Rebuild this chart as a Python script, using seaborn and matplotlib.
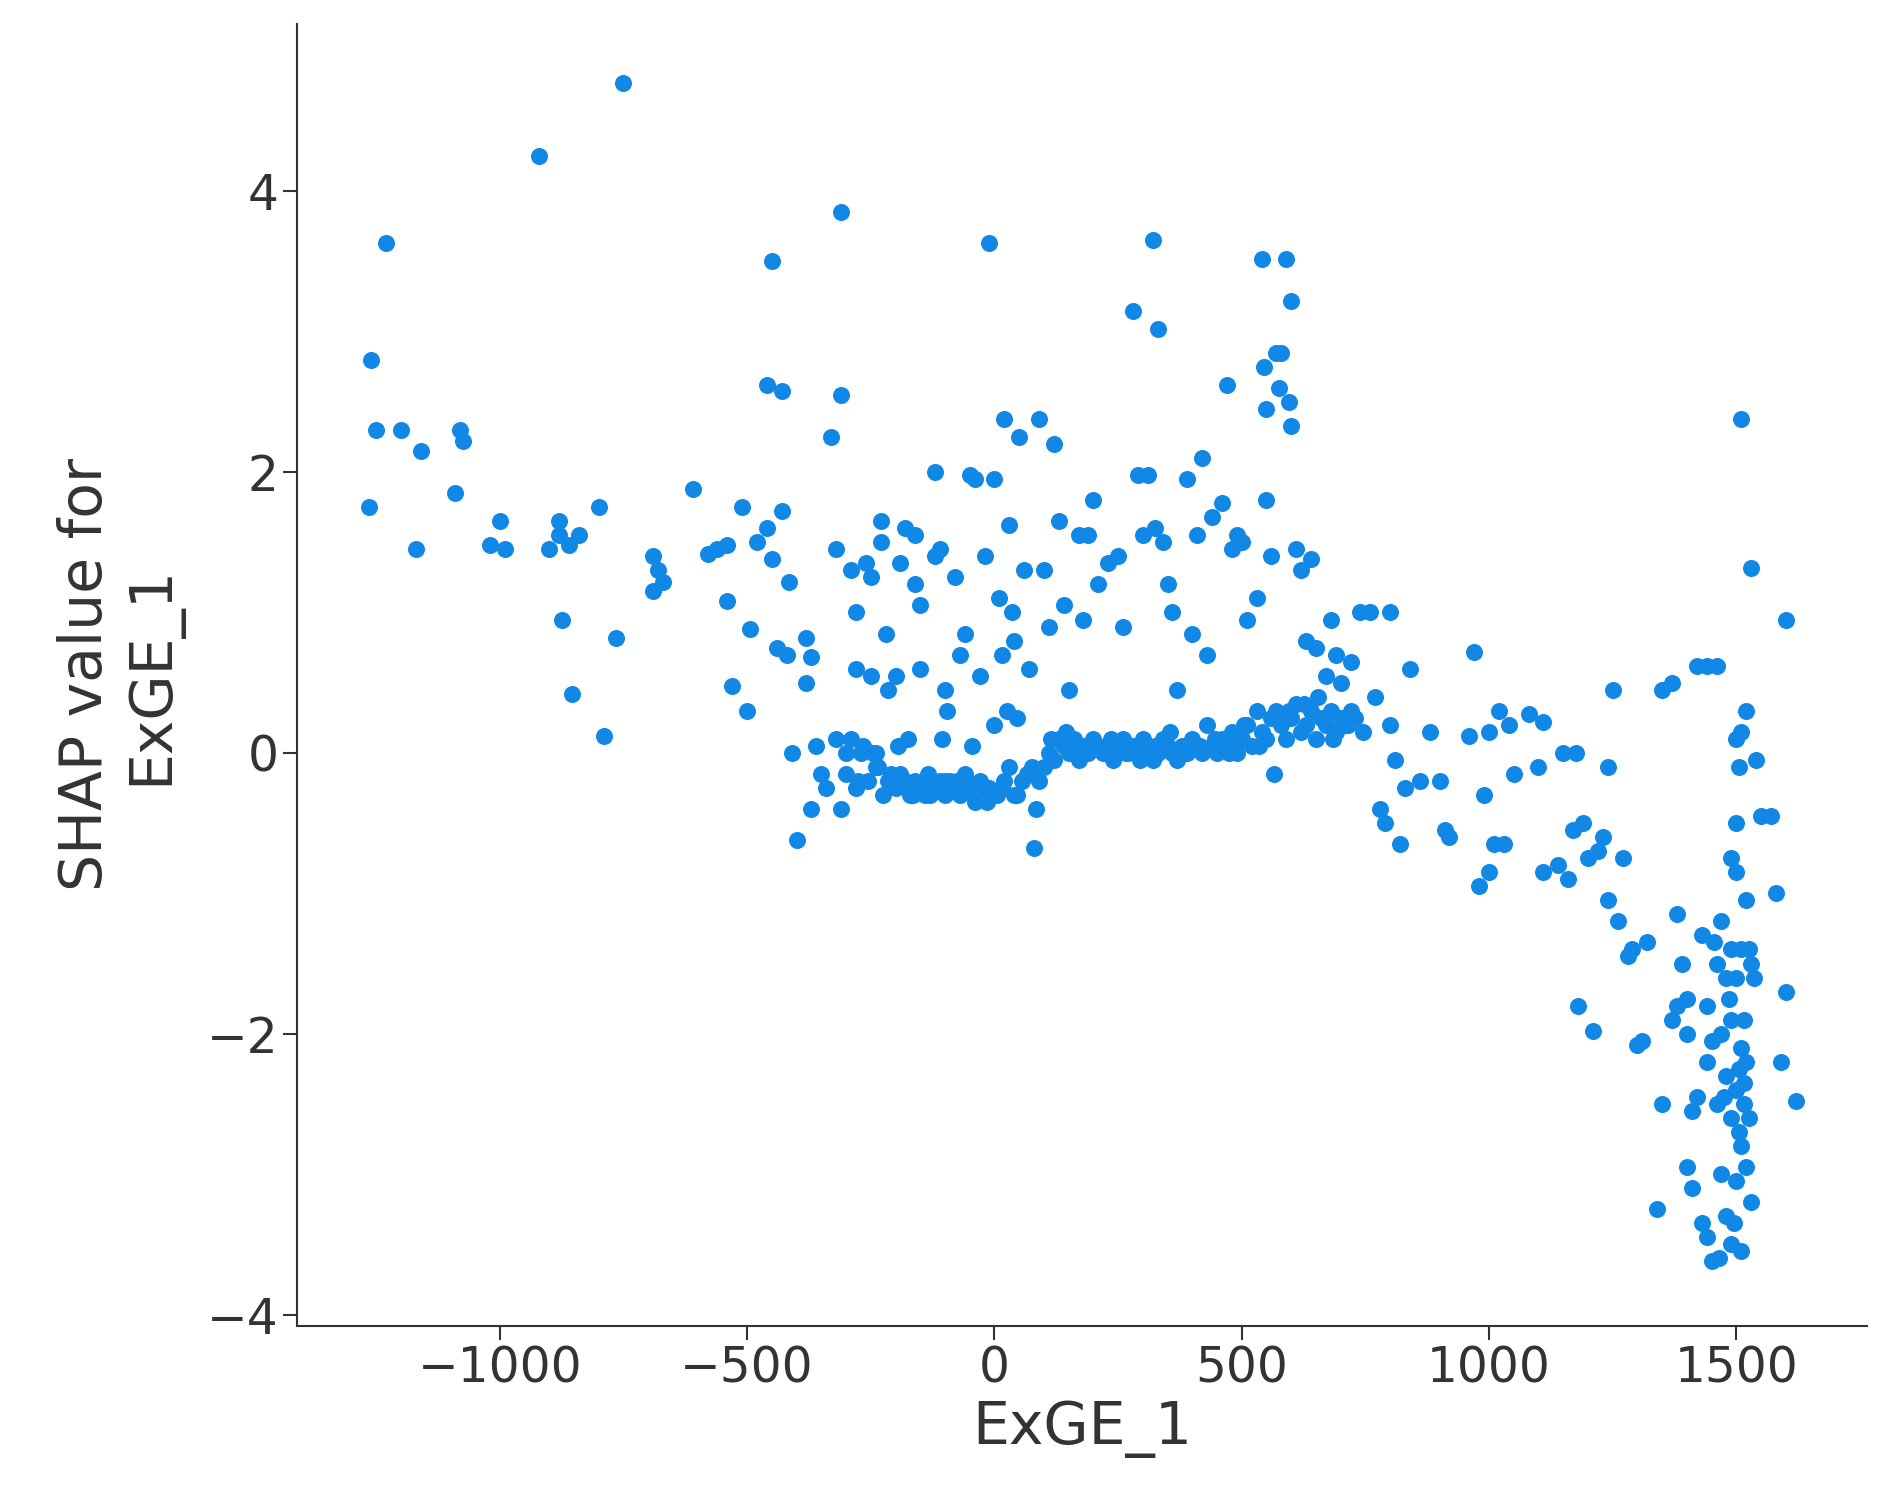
import matplotlib
matplotlib.use("Agg", force=True)
import matplotlib.pyplot as plt
import pandas as pd
import seaborn as sns

# SHAP dependence values for ExGE_1
left_x = [-1265, -1260, -1250, -1230, -1200, -1170, -1160, -1090, -1080, -1075, -1020, -1000, -990, -920,
          -900, -880, -880, -875, -860, -855, -840, -800, -790, -765, -750, -690, -690, -680, -670, -610,
          -580, -560, -540, -540, -530, -510, -500, -495, -480, -460, -460, -450, -450, -440, -430, -430,
          -420, -415, -410, -400]
left_y = [1.75, 2.8, 2.3, 3.63, 2.3, 1.45, 2.15, 1.85, 2.3, 2.22, 1.48, 1.65, 1.45, 4.25,
          1.45, 1.65, 1.55, 0.95, 1.48, 0.42, 1.55, 1.75, 0.12, 0.82, 4.77, 1.4, 1.15, 1.3, 1.22, 1.88,
          1.42, 1.45, 1.48, 1.08, 0.48, 1.75, 0.3, 0.88, 1.5, 2.62, 1.6, 3.5, 1.38, 0.75, 2.58, 1.72,
          0.7, 1.22, 0.0, -0.62]

mid_x = [-380, -380, -370, -370, -360, -350, -340, -330, -320, -320, -310, -310, -310, -300, -290, -280,
         -280, -275, -260, -250, -250, -245, -240, -230, -230, -220, -215, -210, -200, -190, -180, -175,
         -170, -160, -160, -150, -150, -140, -130, -120, -120, -110, -100, -100, -95, -90, -80, -70, -60,
         -60, -50, -40, -30, -20, -10, -10, 0, 0, 10, 15, 25, 35, 45]
mid_y = [0.5, 0.82, 0.68, -0.4, 0.05, -0.15, -0.25, 2.25, 1.45, 0.1, 3.85, 2.55, -0.4, 0.0, 1.3, 1.0,
         0.6, -0.2, 1.35, 1.25, 0.55, 0.0, -0.1, 1.65, 1.5, 0.85, 0.45, -0.15, 0.55, 1.35, 1.6, 0.1,
         -0.25, 1.55, 1.2, 1.05, 0.6, -0.3, -0.2, 2.0, 1.4, 1.45, 0.45, -0.2, 0.3, -0.25, 1.25, 0.7, 0.85,
         -0.2, 1.98, 1.95, 0.55, 1.4, 3.63, -0.3, 1.95, 0.2, 1.1, 0.7, 0.3, 1.0, 0.25]

band_x = [-300, -290, -280, -265, -255, -240, -225, -215, -200, -190, -180, -170, -160, -150, -140, -130,
          -120, -110, -100, -90, -80, -70, -60, -50, -40, -30, -20, -10, 5, 20, 30, 40, 55, 65, 75, 90,
          100, 110, 120, 130, 140, 150, 160, 170, 180, 190, 200, 210, 220, 230, 240, 250, 260, 270, 280,
          290, 300, 310, 320, 330, 340, 350, 360, 370, 380, 390, 400, 410, 420, 430, 440, 450, 460, 470,
          480, 490, 500, 510, 520, 530, 540, 550, 560, 570, 580, 590, 600, 610, 620, 630, 640, 650, 660,
          670, 680, 690, 700, 710, 720, 730, -270, -235, -195, -165, -135, -105, -75, -45, -15, 15, 45,
          85, 115, 145, 175, 205, 235, 265, 295, 325, 355, 385, 415, 445, 475, 505, 535, 565, 595, 625,
          655, 685, 715, 745]
band_y = [-0.15, 0.1, -0.25, 0.05, -0.2, 0.0, -0.3, -0.2, -0.25, -0.15, -0.2, -0.3, -0.2, -0.25, -0.2,
          -0.3, -0.25, -0.2, -0.3, -0.2, -0.25, -0.3, -0.15, -0.25, -0.35, -0.2, -0.3, -0.25, -0.3, -0.2,
          -0.1, -0.3, -0.2, -0.15, -0.1, -0.2, -0.1, 0.0, -0.05, 0.1, 0.05, 0.0, 0.1, -0.05, 0.05, 0.0,
          0.1, 0.05, 0.0, 0.05, -0.05, 0.0, 0.1, 0.0, 0.05, 0.0, 0.1, 0.05, -0.05, 0.0, 0.1, 0.05, 0.0,
          -0.05, 0.05, 0.0, 0.1, 0.05, 0.0, 0.2, 0.05, 0.0, 0.1, 0.05, 0.15, 0.0, 0.1, 0.2, 0.05, 0.3,
          0.15, 0.1, 0.25, 0.3, 0.2, 0.1, 0.25, 0.35, 0.15, 0.2, 0.3, 0.1, 0.25, 0.2, 0.3, 0.15, 0.25,
          0.2, 0.3, 0.25, 0.0, -0.1, 0.05, -0.3, -0.15, 0.1, -0.2, 0.05, -0.35, -0.25, -0.3, -0.4, 0.1,
          0.15, 0.0, 0.05, 0.1, 0.0, -0.05, 0.05, 0.15, 0.0, 0.05, 0.1, 0.0, 0.2, 0.05, -0.15, 0.3, 0.35,
          0.4, 0.1, 0.2, 0.15]

upper_x = [20, 30, 40, 50, 60, 70, 80, 90, 100, 110, 120, 130, 140, 150, 170, 180, 190, 200, 210, 230,
           250, 260, 280, 290, 300, 310, 320, 325, 330, 340, 350, 360, 370, 390, 400, 410, 420, 430, 440,
           460, 470, 480, 490, 500, 510, 530, 540, 545, 550, 550, 560, 570, 575, 580, 590, 595, 600, 600,
           610, 620, 630, 640, 650, 670, 680, 690, 700]
upper_y = [2.38, 1.62, 0.8, 2.25, 1.3, 0.6, -0.68, 2.38, 1.3, 0.9, 2.2, 1.65, 1.05, 0.45, 1.55, 0.95,
           1.55, 1.8, 1.2, 1.35, 1.4, 0.9, 3.15, 1.98, 1.55, 1.98, 3.65, 1.6, 3.02, 1.5, 1.2, 1.0, 0.45,
           1.95, 0.85, 1.55, 2.1, 0.7, 1.68, 1.78, 2.62, 1.45, 1.55, 1.5, 0.95, 1.1, 3.52, 2.75, 2.45, 1.8,
           1.4, 2.85, 2.6, 2.85, 3.52, 2.5, 3.22, 2.33, 1.45, 1.3, 0.8, 1.38, 0.75, 0.55, 0.95, 0.7, 0.5]

right_x = [720, 740, 760, 770, 780, 790, 800, 800, 810, 820, 830, 840, 860, 880, 900, 910, 920, 960,
           970, 980, 990, 1000, 1000, 1010, 1020, 1030, 1040, 1050, 1080, 1100, 1110, 1110, 1140, 1150,
           1160, 1170, 1175, 1180, 1190, 1200, 1210, 1220, 1230, 1240, 1240, 1250, 1260, 1270, 1280,
           1290, 1300, 1310, 1320, 1340, 1350, 1350, 1370, 1380, 1510, 1530, 1520, 1540, 1550, 1570,
           1580, 1590, 1600, 1600, 1620, 1420, 1440, 1460]
right_y = [0.65, 1.0, 1.0, 0.4, -0.4, -0.5, 0.2, 1.0, -0.05, -0.65, -0.25, 0.6, -0.2, 0.15, -0.2, -0.55,
           -0.6, 0.12, 0.72, -0.95, -0.3, 0.15, -0.85, -0.65, 0.3, -0.65, 0.2, -0.15, 0.28, -0.1, 0.22,
           -0.85, -0.8, 0.0, -0.9, -0.55, 0.0, -1.8, -0.5, -0.75, -1.98, -0.7, -0.6, -0.1, -1.05, 0.45,
           -1.2, -0.75, -1.45, -1.4, -2.08, -2.05, -1.35, -3.25, -2.5, 0.45, 0.5, -1.15, 2.38, 1.32, 0.3,
           -0.05, -0.45, -0.45, -1.0, -2.2, 0.95, -1.7, -2.48, 0.62, 0.62, 0.62]

cluster_x = [1390, 1400, 1400, 1400, 1410, 1410, 1430, 1430, 1440, 1440, 1450, 1450, 1460, 1460, 1470,
             1470, 1470, 1480, 1480, 1480, 1490, 1490, 1490, 1490, 1500, 1500, 1500, 1500, 1500, 1505,
             1505, 1510, 1510, 1510, 1510, 1515, 1515, 1520, 1520, 1520, 1525, 1525, 1530, 1530, 1535,
             1440, 1455, 1465, 1475, 1485, 1495, 1505, 1515, 1500, 1510, 1490, 1420, 1380, 1370]
cluster_y = [-1.5, -1.75, -2.0, -2.95, -3.1, -2.55, -1.3, -3.35, -1.8, -3.45, -2.05, -3.62, -1.5, -2.5,
             -1.2, -2.0, -3.0, -1.6, -2.3, -3.3, -1.4, -1.9, -2.6, -3.5, -0.5, -0.85, -1.6, -2.4, -3.05,
             -2.7, -0.1, -1.4, -2.1, -2.8, -3.55, -1.9, -2.5, -1.05, -2.2, -2.95, -1.4, -2.6, -1.5, -3.2,
             -1.6, -2.2, -1.35, -3.6, -2.45, -1.75, -3.35, -2.25, -2.35, 0.1, 0.15, -0.75, -2.45, -1.8,
             -1.9]

df = pd.DataFrame({
    "x": left_x + mid_x + band_x + upper_x + right_x + cluster_x,
    "y": left_y + mid_y + band_y + upper_y + right_y + cluster_y,
})

sns.set_style("ticks")
plt.rcParams["font.family"] = ["DejaVu Sans"]

fig = plt.figure(figsize=(18.92, 15.10), dpi=100)
ax = fig.add_axes([0.157, 0.122, 0.830, 0.862])
sns.scatterplot(data=df, x="x", y="y", ax=ax, color="#1188E5", s=150, linewidth=0, legend=False)

ax.set_xlim(-1410, 1765)
ax.set_ylim(-4.08, 5.19)
ax.set_xticks([-1000, -500, 0, 500, 1000, 1500])
ax.set_yticks([-4, -2, 0, 2, 4])
ax.set_xticklabels(["\u22121000", "\u2212500", "0", "500", "1000", "1500"])
ax.set_yticklabels(["\u22124", "\u22122", "0", "2", "4"])
ax.tick_params(labelsize=35, length=10, width=1.5, colors="#333333")
ax.set_xlabel("ExGE_1", fontsize=42, color="#333333", labelpad=6)
ax.set_ylabel("SHAP value for\nExGE_1", fontsize=42, color="#333333", labelpad=18)
for side in ["top", "right"]:
    ax.spines[side].set_visible(False)
for side in ["left", "bottom"]:
    ax.spines[side].set_linewidth(1.5)
    ax.spines[side].set_color("#333333")

fig.savefig("out.png", dpi=100)
